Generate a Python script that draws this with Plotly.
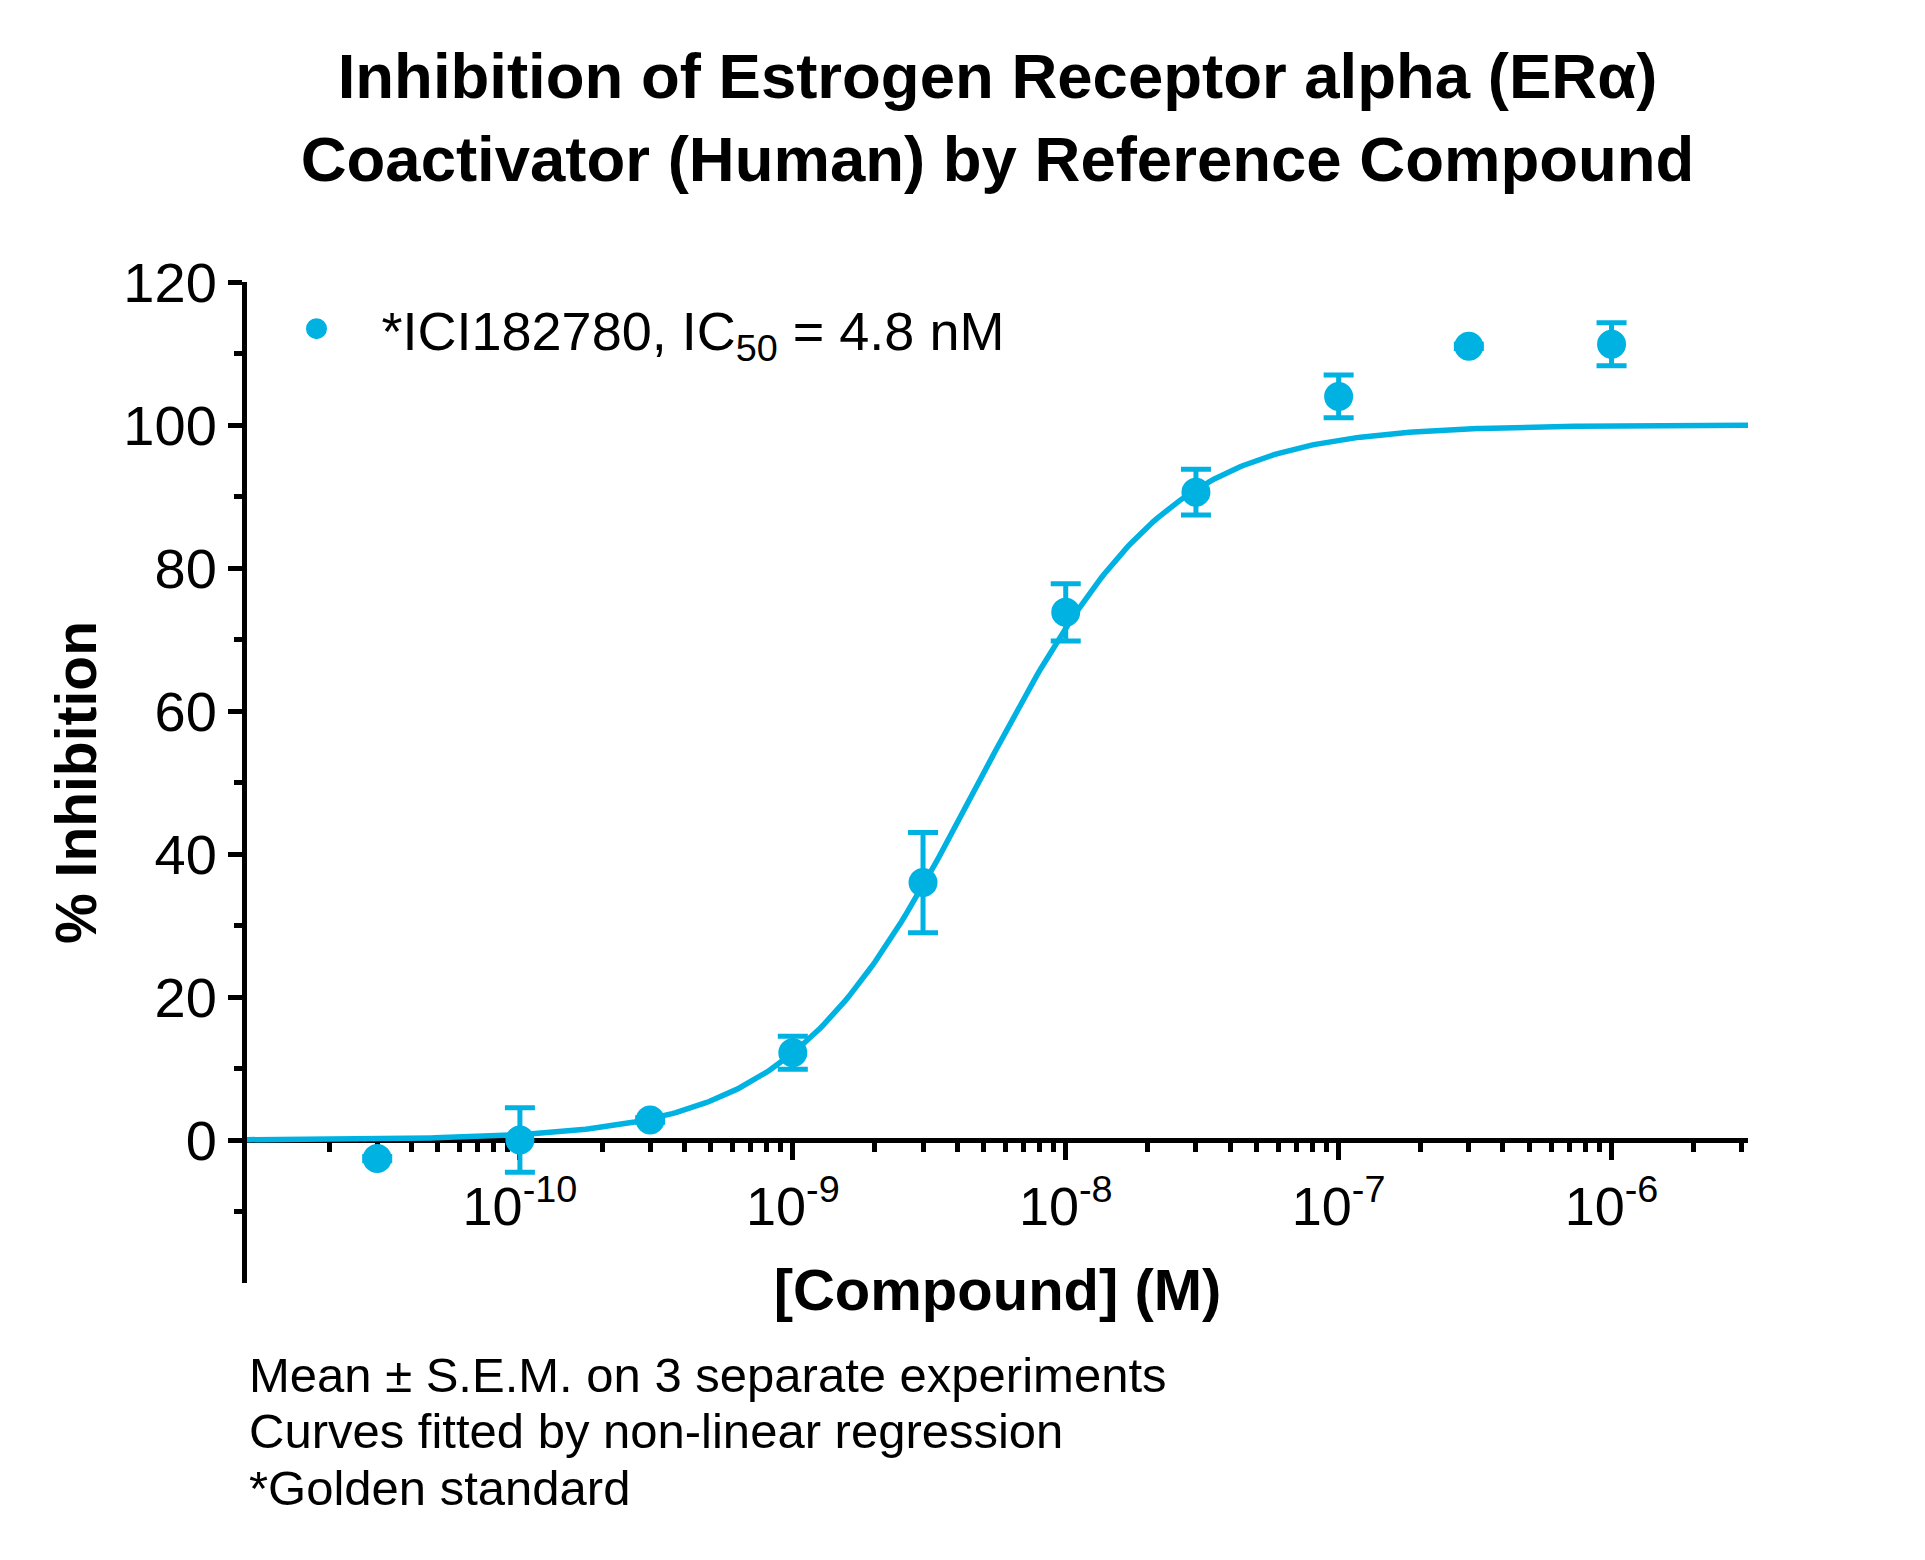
import numpy as np
import plotly.graph_objects as go

# ---- data ----
conc_M = [3e-11, 1e-10, 3e-10, 1e-9, 3e-9, 1e-8, 3e-8, 1e-7, 3e-7, 1e-6]
inhibition = [-2.6, 0.0, 2.8, 12.2, 36.0, 73.8, 90.6, 104.0, 111.0, 111.3]
sem = [0.3, 4.5, 0.3, 2.3, 7.0, 4.0, 3.2, 3.0, 0.3, 3.0]

# fitted 4-parameter logistic parameters (IC50 from legend)
fit_bottom = 0.0
fit_top = 100.0
fit_ic50 = 4.8e-9
fit_hill = 1.26

x_ticks = [1e-10, 1e-9, 1e-8, 1e-7, 1e-6]
x_ticktext = ["10<sup>-10</sup>", "10<sup>-9</sup>", "10<sup>-8</sup>", "10<sup>-7</sup>", "10<sup>-6</sup>"]
y_ticks = [0, 20, 40, 60, 80, 100, 120]
y_minor = [-10, 10, 30, 50, 70, 90, 110]

legend_label = "*ICI182780, IC<sub>50</sub> = 4.8 nM"
title_text = "Inhibition of Estrogen Receptor alpha (ERα)<br>Coactivator (Human) by Reference Compound"
footnotes = ["Mean ± S.E.M. on 3 separate experiments",
             "Curves fitted by non-linear regression",
             "*Golden standard"]

COLOR = "#00B2E2"
FONT = "Liberation Sans, Arial, sans-serif"

x_log_range = [-11, -5.5]
y_range = [-20, 120]

# curve from fitted parameters
xc = np.logspace(x_log_range[0], x_log_range[1], 400)
yc = fit_bottom + (fit_top - fit_bottom) / (1 + (fit_ic50 / xc) ** fit_hill)

x_minor = [k * 10.0 ** e for e in range(-11, -5) for k in range(2, 10)
           if k * 10.0 ** e <= 10 ** x_log_range[1]]

fig = go.Figure()
fig.add_trace(go.Scatter(x=xc, y=yc, mode="lines", line=dict(color=COLOR, width=5.5),
                         showlegend=False, hoverinfo="skip", cliponaxis=False))
fig.add_trace(go.Scatter(
    x=conc_M, y=inhibition, mode="markers", name=legend_label,
    marker=dict(color=COLOR, size=24, symbol="circle", line=dict(color=COLOR, width=5)),
    error_y=dict(type="data", array=sem, visible=True, color=COLOR, thickness=5, width=15),
    cliponaxis=False))

fig.update_layout(
    width=1925, height=1560,
    margin=dict(l=247, r=177, t=282, b=277),
    paper_bgcolor="white", plot_bgcolor="white",
    font=dict(family=FONT, color="black"),
    title=dict(text="<b>" + title_text + "</b>", x=0.5, xref="paper", xanchor="center",
               y=0.937, yref="container", yanchor="top",
               font=dict(size=63.5, family=FONT, color="black")),
    legend=dict(x=0.003, y=0.953, xanchor="left", yanchor="middle",
                font=dict(size=54, family=FONT), bgcolor="rgba(0,0,0,0)",
                itemwidth=120, itemsizing="trace"),
    showlegend=True,
)

fig.update_xaxes(
    type="log", range=x_log_range,
    anchor="free", position=(0 - y_range[0]) / (y_range[1] - y_range[0]),
    showline=True, linecolor="black", linewidth=5, layer="below traces",
    showgrid=False, zeroline=False,
    tickmode="array", tickvals=x_ticks, ticktext=x_ticktext,
    ticks="outside", ticklen=17, tickwidth=5, tickcolor="black",
    tickfont=dict(size=54, family=FONT),
    minor=dict(tickmode="array", tickvals=x_minor, ticks="outside", ticklen=9,
               tickwidth=5, tickcolor="black", showgrid=False),
    title=dict(text="<b>[Compound] (M)</b>", font=dict(size=58, family=FONT), standoff=34),
)
fig.update_yaxes(
    range=y_range,
    showline=True, linecolor="black", linewidth=5,
    showgrid=False, zeroline=False,
    tickmode="array", tickvals=y_ticks,
    ticks="outside", ticklen=14, tickwidth=5, tickcolor="black",
    tickfont=dict(size=56, family=FONT),
    minor=dict(tickmode="array", tickvals=y_minor, ticks="outside", ticklen=8,
               tickwidth=5, tickcolor="black", showgrid=False),
    title=dict(text="<b>% Inhibition</b>", font=dict(size=57, family=FONT), standoff=10),
)

foot_y = [-0.092, -0.148, -0.205]
for txt, yy in zip(footnotes, foot_y):
    fig.add_annotation(text=txt, xref="paper", yref="paper", x=0, y=yy,
                       xanchor="left", yanchor="middle", showarrow=False,
                       font=dict(size=49, family=FONT, color="black"))

fig.write_html("out.html")
